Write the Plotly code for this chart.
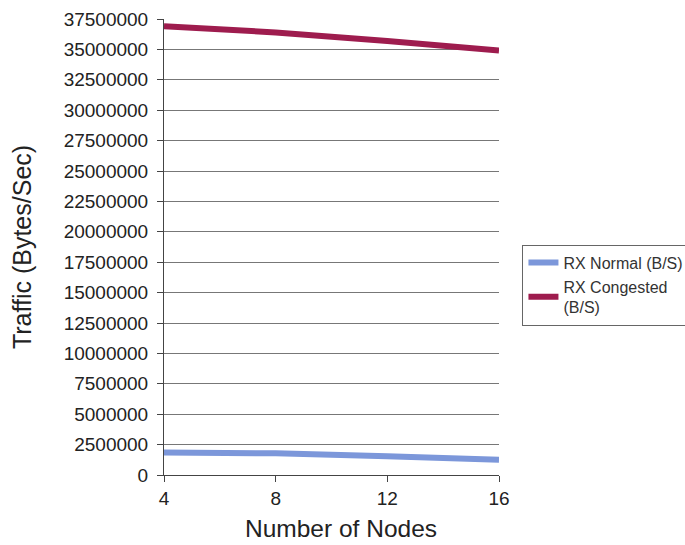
import plotly.graph_objects as go

# Number of nodes in the simulated network
nodes = [4, 8, 12, 16]

# Received traffic in bytes per second
rx_normal = [1850000, 1780000, 1550000, 1250000]
rx_congested = [36900000, 36400000, 35700000, 34900000]

y_ticks = list(range(0, 37500001, 2500000))

fig = go.Figure()
fig.add_trace(go.Scatter(
    x=nodes, y=rx_normal, mode="lines", name="RX Normal (B/S)",
    line=dict(color="#7C97DA", width=6),
))
fig.add_trace(go.Scatter(
    x=nodes, y=rx_congested, mode="lines", name="RX Congested<br>(B/S)",
    line=dict(color="#9E1C4E", width=6),
))

fig.update_layout(
    width=685, height=545,
    margin=dict(l=164, r=186, t=19, b=70, autoexpand=False),
    paper_bgcolor="white", plot_bgcolor="white",
    font=dict(family="Liberation Sans, Arial, sans-serif", color="#222", size=19),
    showlegend=True,
    legend=dict(
        x=1.07, y=0.505, xanchor="left", yanchor="top",
        bordercolor="#666", borderwidth=1, bgcolor="white",
        font=dict(size=16, color="#333"), tracegroupgap=0,
    ),
    xaxis=dict(
        range=[4, 16], tickvals=nodes, ticks="outside", ticklen=6,
        tickcolor="#444", showline=True, linecolor="#444", linewidth=1,
        showgrid=False, zeroline=False,
    ),
    yaxis=dict(
        range=[0, 37500000], tickvals=y_ticks, tickformat="d",
        ticks="outside", ticklen=6, tickcolor="#444", ticklabelstandoff=5,
        showline=True, linecolor="#444", linewidth=1,
        showgrid=True, gridcolor="#777", gridwidth=1, zeroline=False,
        title=dict(text="Traffic (Bytes/Sec)", font=dict(size=25), standoff=24),
    ),
    annotations=[dict(
        text="Number of Nodes", xref="paper", yref="paper",
        x=0.528, y=0, xanchor="center", yanchor="bottom", yshift=-69,
        showarrow=False, font=dict(size=24.5),
    )],
)

fig.write_html("out.html")
